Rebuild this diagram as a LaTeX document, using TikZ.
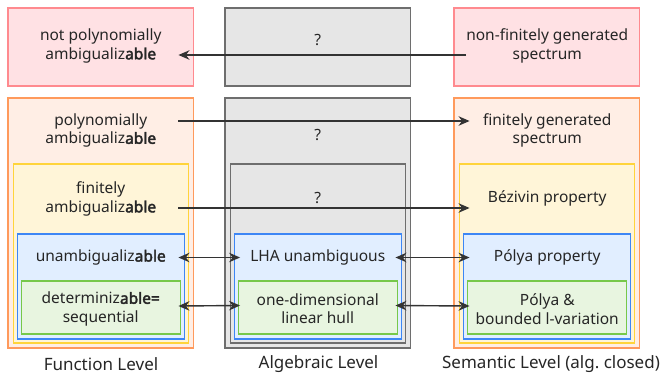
\documentclass[tikz,border=0pt]{standalone}
\usepackage{fontspec}
\setmainfont{Noto Sans}[BoldFont={Noto Sans}, BoldFeatures={FakeBold=2.5}]
\usetikzlibrary{arrows.meta}
\definecolor{fred}{HTML}{FFE1E4}
\definecolor{lred}{HTML}{FF8A8F}
\definecolor{forange}{HTML}{FFEEE5}
\definecolor{lorange}{HTML}{FF9A5C}
\definecolor{fyellow}{HTML}{FFF5D8}
\definecolor{lyellow}{HTML}{FFD43B}
\definecolor{fblue}{HTML}{E1EEFF}
\definecolor{lblue}{HTML}{3D86F5}
\definecolor{fgreen}{HTML}{E8F5E0}
\definecolor{lgreen}{HTML}{77C84A}
\definecolor{fgray}{HTML}{E6E6E6}
\definecolor{lgray}{HTML}{6E6E6E}
\definecolor{arrowgray}{HTML}{333333}
\tikzset{
  bw/.style={line width=1.5pt},
  lbl/.style={align=center, minimum width=155pt, inner sep=0pt, text=black!85, font=\fontsize{15.5}{18.5}\selectfont},
  lvl/.style={inner sep=0pt, text=black!85, font=\fontsize{17}{20}\selectfont},
  arr/.style={draw=arrowgray, line width=1.4pt, -{Stealth[length=11pt,width=9.5pt]}},
  darr/.style={draw=arrowgray, line width=1.4pt, {Stealth[length=11pt,width=9.5pt]}-{Stealth[length=11pt,width=9.5pt]}},
}
\begin{document}
\begin{tikzpicture}[x=1pt,y=-1pt]
\useasboundingbox (0,0) rectangle (663,375);
% nested boxes of the three levels
\foreach \x/\t/\o/\y in {8/red/orange/yellow,225/gray/gray/gray,454/red/orange/yellow} {
  \draw[bw, draw=l\t, fill=f\t] (\x,8) rectangle (\x+185.5,86);
  \draw[bw, draw=l\o, fill=f\o] (\x,98) rectangle (\x+185.5,348);
  \draw[bw, draw=l\y, fill=f\y] (\x+5.5,164) rectangle (\x+180.5,343);
  \draw[bw, draw=lblue, fill=fblue] (\x+9.5,234) rectangle (\x+176.5,339);
  \draw[bw, draw=lgreen, fill=fgreen] (\x+13.5,281) rectangle (\x+172.5,334);
}
% function level
\node[lbl] (npa) at (100.75,46) {not polynomially\\ambigualiz\textbf{able}};
\node[lbl] (pa) at (100.75,130.5) {polynomially\\ambigualiz\textbf{able}};
\node[lbl] (fa) at (100.75,199) {finitely\\ambigualiz\textbf{able}};
\node[lbl] (una) at (100.75,257.5) {unambigualiz\textbf{able}};
\node[lbl] (det) at (100.75,309) {determiniz\textbf{able=}\\sequential};
% algebraic level
\node[lbl] (q1) at (317.75,40) {?};
\node[lbl] (q2) at (317.75,135) {?};
\node[lbl] (q3) at (317.75,198) {?};
\node[lbl] (lha) at (317.75,257.5) {LHA unambiguous};
\node[lbl] (odl) at (317.75,308.5) {one-dimensional\\linear hull};
% semantic level
\node[lbl] (nfg) at (547.25,46) {non-finitely generated\\spectrum};
\node[lbl] (fgs) at (547.25,130.5) {finitely generated\\spectrum};
\node[lbl] (bez) at (547.25,198) {Bézivin property};
\node[lbl] (pp) at (547.25,257.5) {Pólya property};
\node[lbl] (pbv) at (547.25,309) {Pólya \&\\bounded l-variation};
\node[lvl] (fnl) at (101,364) {Function Level};
\node[lvl] (agl) at (318.5,364) {Algebraic Level};
\node[lvl] (sml) at (551,364) {Semantic Level (alg.\ closed)};
% connectors
\coordinate (a1) at ([yshift=-9pt]nfg.west);
\draw[arr] (a1) -- (a1 -| npa.east);
\coordinate (a2) at ([yshift=9.5pt]pa.east);
\draw[arr] (a2) -- (a2 -| fgs.west);
\coordinate (a3) at ([yshift=-9pt]fa.east);
\draw[arr] (a3) -- (a3 -| bez.west);
\draw[darr] (una.east) -- (lha.west);
\draw[darr] (lha.east) -- (pp.west);
\draw[darr] ([yshift=3pt]det.east) -- ([yshift=3pt]odl.west);
\draw[darr] ([yshift=3pt]odl.east) -- ([yshift=3pt]pbv.west);
\end{tikzpicture}
\end{document}
